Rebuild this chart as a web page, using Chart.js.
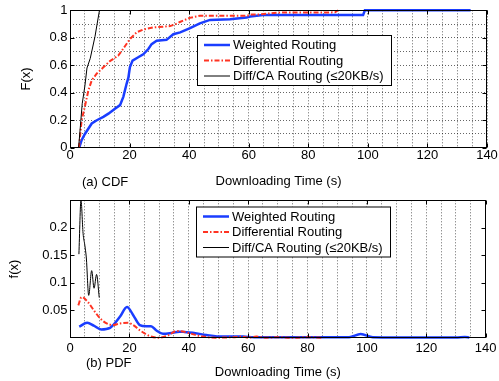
<!DOCTYPE html>
<html><head><meta charset="utf-8">
<script src="https://cdn.jsdelivr.net/npm/chart.js@4.4.1/dist/chart.umd.min.js"></script>
<style>
html,body{margin:0;padding:0;background:#fff;}
#wrap{position:relative;width:499px;height:381px;overflow:hidden;background:#fff;}
.box{position:absolute;left:0;width:499px;height:190px;}
.lbl{position:absolute;font:13px "Liberation Sans",Arial,sans-serif;line-height:15px;color:#000;white-space:nowrap;}
</style></head><body>
<div id="wrap">
<div class="box" style="top:0"><canvas id="c1" width="499" height="190"></canvas></div>
<div class="box" style="top:190px"><canvas id="c2" width="499" height="190"></canvas></div>
<div class="lbl" style="left:82px;top:174px">(a) CDF</div>
<div class="lbl" style="left:86px;top:355px">(b) PDF</div>
</div>
<script>
// ---- labels ----
const seriesNames = ['Weighted Routing', 'Differential Routing', 'Diff/CA Routing (\u226420KB/s)'];
const xTitle = 'Downloading Time (s)';
const xTickLabels = [0, 20, 40, 60, 80, 100, 120, 140];
const cdfYTickLabels = [0, 0.2, 0.4, 0.6, 0.8, 1];
const pdfYTickLabels = [0.05, 0.1, 0.15, 0.2];

// ---- CDF data ----
const cdfWeightedX = [3.1,3.9,5,6.2,7.3,9,11.2,12.9,15.1,16.8,17.9,19,19.6,20.1,21,22.9,24.6,26.3,27.4,29.1,32.4,34.7,37,40.3,43.6,47,53.7,59.3,60.5,64.8,98.4,99,134.5];
const cdfWeightedY = [0,0.055,0.1,0.14,0.176,0.2,0.224,0.248,0.284,0.31,0.37,0.465,0.51,0.585,0.634,0.658,0.68,0.718,0.754,0.778,0.785,0.826,0.839,0.87,0.905,0.93,0.935,0.947,0.955,0.965,0.965,1,1];
const cdfDiffX = [3,3.9,5,6.2,7.3,9,11.2,13.4,16.2,18.5,20.1,22.4,24.6,28,33.6,35.5,36.9,40.2,43.6,59.4,61,64,69.5,89,90];
const cdfDiffY = [0,0.2,0.3,0.42,0.49,0.54,0.585,0.63,0.67,0.74,0.79,0.84,0.86,0.875,0.885,0.9,0.915,0.945,0.96,0.96,0.97,0.97,0.983,0.985,1];
const cdfCaX = [2.9,3.5,4.1,5,5.7,6.8,7.3,8.4,9.1,9.9];
const cdfCaY = [0,0.16,0.32,0.45,0.58,0.65,0.7,0.81,0.9,1];

// ---- PDF data ----
const pdfWeightedX = [3.1,5.8,8,10.5,13.5,16.8,19.2,21.3,23.5,25.7,27.3,29,31.3,33.6,36.9,38.5,41.3,45.9,51.4,58.2,62,76,90,94,97.9,102,110,130,133,134.5];
const pdfWeightedY = [0.02,0.027,0.022,0.015,0.018,0.038,0.056,0.041,0.023,0.021,0.021,0.0136,0.007,0.008,0.011,0.0105,0.009,0.005,0.002,0.002,0.001,0.001,0.0008,0.001,0.0068,0.001,0.0005,0.0005,0.0015,0.0005];
const pdfDiffX = [2.8,3.9,6,8,10,12,14.5,16.8,19.6,21.3,23.5,26.8,30,33,35.8,37,40.3,44.7,49,55,58,60,62.8,66,70,75,80,85];
const pdfDiffY = [0.059,0.074,0.065,0.05,0.036,0.027,0.023,0.026,0.027,0.023,0.0136,0.003,0,0.004,0.012,0.012,0.008,0.002,0,0.001,0.002,0,0.002,0,0.001,0,0.001,0];
const pdfCaX = [3.0,3.7,4.4,5.0,5.5,6.3,7.3,8.1,8.95,9.85];
const pdfCaY = [0.152,0.25,0.19,0.168,0.145,0.077,0.122,0.09,0.115,0.073];

const FONT = '"Liberation Sans", Arial, sans-serif';
const BLUE = '#1a3dff', RED = '#ff3322', BLACK = '#000000';
const GRID = 'rgba(0,0,0,0.6)';
const zip = (xs, ys) => xs.map((x, i) => ({x: x, y: ys[i]}));

function makeDatasets(wx, wy, dx, dy, cx, cy, smooth) {
  const common = {pointRadius: 0, fill: false, clip: 3, tension: 0};
  if (smooth) { common.cubicInterpolationMode = 'monotone'; }
  return [
    Object.assign({label: seriesNames[0], data: zip(wx, wy), borderColor: BLUE, borderWidth: 2.5, order: 3}, common),
    Object.assign({label: seriesNames[1], data: zip(dx, dy), borderColor: RED, borderWidth: 2, borderDash: [5, 2, 1.5, 2], order: 2}, common),
    Object.assign({label: seriesNames[2], data: zip(cx, cy), borderColor: BLACK, borderWidth: 1, order: 1}, common)
  ];
}

const framePlugin = {
  id: 'frame',
  afterDraw(chart, args, opts) {
    const ctx = chart.ctx, a = chart.chartArea;
    const xs = chart.scales.x, ys = chart.scales.y;
    ctx.save();
    ctx.strokeStyle = '#000'; ctx.lineWidth = 1;
    const L = Math.round(a.left) + 0.5, R = Math.round(a.right) - 0.5;
    const T = Math.round(a.top) + 0.5, B = Math.round(a.bottom) - 0.5;
    ctx.beginPath();
    xTickLabels.forEach(v => {
      const px = Math.round(xs.getPixelForValue(v)) + 0.5;
      ctx.moveTo(px, B); ctx.lineTo(px, B - 4);
      ctx.moveTo(px, T); ctx.lineTo(px, T + 4);
    });
    opts.yTicks.forEach(v => {
      const py = Math.round(ys.getPixelForValue(v)) + 0.5;
      ctx.moveTo(L, py); ctx.lineTo(L + 4, py);
      ctx.moveTo(R, py); ctx.lineTo(R - 4, py);
    });
    ctx.stroke();
    ctx.strokeRect(L, T, R - L, B - T);
    // legend
    const lx = opts.legendX, ly = opts.legendY, lw = opts.legendW, lh = 50;
    ctx.fillStyle = '#fff';
    ctx.fillRect(lx, ly, lw, lh);
    ctx.strokeRect(lx + 0.5, ly + 0.5, lw, lh);
    chart.data.datasets.forEach((ds, i) => {
      const yy = ly + 10 + i * 15.5;
      ctx.save();
      ctx.strokeStyle = ds.borderColor; ctx.lineWidth = ds.borderWidth;
      ctx.setLineDash(ds.borderDash || []);
      ctx.beginPath(); ctx.moveTo(lx + 7, yy); ctx.lineTo(lx + 33, yy); ctx.stroke();
      ctx.restore();
      ctx.fillStyle = '#000'; ctx.font = '13px ' + FONT;
      ctx.textBaseline = 'middle'; ctx.textAlign = 'left';
      ctx.fillText(ds.label, lx + 36, yy + 0.5);
    });
    ctx.restore();
  }
};

function makeOptions(p) {
  return {
    responsive: false, animation: false, devicePixelRatio: 1,
    layout: {padding: {top: 9.5, right: 12, bottom: 0, left: 0}},
    plugins: {legend: {display: false}, tooltip: {enabled: false},
      frame: {yTicks: p.yTicks, legendX: p.legendX, legendY: p.legendY, legendW: 194}},
    scales: {
      x: {
        type: 'linear', min: 0, max: 140,
        afterFit: s => { s.height = 42.3; },
        grid: {display: true, drawTicks: false, color: GRID, lineWidth: 1},
        border: {display: false, dash: [1, 2]},
        ticks: {stepSize: 5, autoSkip: false, maxRotation: 0, padding: p.xTickPad, color: '#000',
          font: {family: FONT, size: 13},
          callback: v => (xTickLabels.includes(Math.round(v)) && Math.abs(v - Math.round(v)) < 1e-6) ? String(Math.round(v)) : ''},
        title: {display: true, text: xTitle, color: '#000', font: {family: FONT, size: 13}, padding: {top: 0, bottom: p.xTitlePad}}
      },
      y: {
        type: 'linear', min: 0, max: p.yMax,
        afterFit: s => { s.width = 70; },
        grid: {display: p.yGrid, drawTicks: false, color: GRID, lineWidth: 1},
        border: {display: false, dash: [1, 2]},
        ticks: {stepSize: p.yStep, autoSkip: false, padding: 2.5, color: '#000',
          font: {family: FONT, size: 13},
          callback: v => { const m = p.yTicks.find(t => Math.abs(t - v) < 1e-6); return m === undefined ? '' : String(m); }},
        title: {display: true, text: p.yTitle, color: '#000', font: {family: FONT, size: 13}, padding: {top: p.yTitlePad, bottom: 0}}
      }
    }
  };
}

new Chart(document.getElementById('c1'), {
  type: 'line',
  data: {datasets: makeDatasets(cdfWeightedX, cdfWeightedY, cdfDiffX, cdfDiffY, cdfCaX, cdfCaY, false)},
  options: makeOptions({yMax: 1, yStep: 0.1, yTicks: cdfYTickLabels, yGrid: true, yTitle: 'F(x)', yTitlePad: 18.7,
    xTickPad: 0, xTitlePad: 0.5, legendX: 197, legendY: 35}),
  plugins: [framePlugin]
});

new Chart(document.getElementById('c2'), {
  type: 'line',
  data: {datasets: makeDatasets(pdfWeightedX, pdfWeightedY, pdfDiffX, pdfDiffY, pdfCaX, pdfCaY, true)},
  options: makeOptions({yMax: 0.25, yStep: 0.05, yTicks: pdfYTickLabels, yGrid: false, yTitle: 'f(x)', yTitlePad: 6.2,
    xTickPad: 2.5, xTitlePad: 0, legendX: 196, legendY: 16.5}),
  plugins: [framePlugin]
});
</script>
</body></html>
